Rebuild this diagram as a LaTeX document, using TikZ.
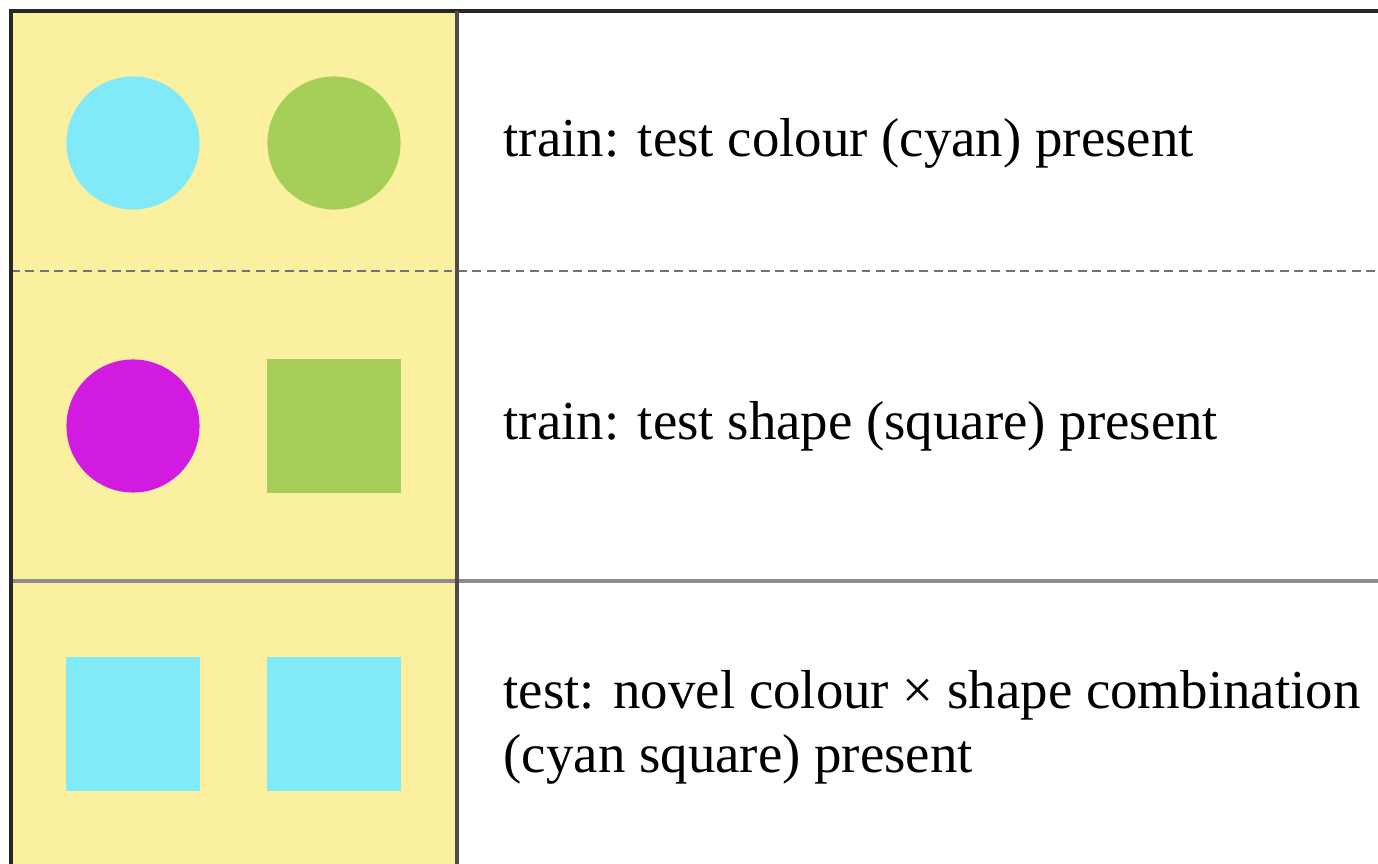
\documentclass[tikz,border=0pt]{standalone}
\usepackage{fontspec}
\setmainfont{Liberation Serif}
\usetikzlibrary{positioning}
\definecolor{pale}{RGB}{250,240,160}
\definecolor{cyanish}{RGB}{128,234,248}
\definecolor{leaf}{RGB}{166,207,90}
\definecolor{plum}{RGB}{210,27,224}
\tikzset{
  disc/.style={circle,inner sep=0pt,minimum size=1.33cm},
  sq/.style={rectangle,inner sep=0pt,minimum size=1.33cm},
  lab/.style={anchor=west,align=left,font=\fontsize{15.6}{18.2}\selectfont,inner sep=0pt},
  rim/.style={draw=black!85,line width=1.2pt},
  rule/.style={draw=black!45,line width=1pt},
}

\begin{document}
\begin{tikzpicture}[x=0.01cm,y=-0.01cm]
  \useasboundingbox (0,0) rectangle (1378,864);
  \fill[pale] (11,11) rectangle (457,864);
  % row separators
  \draw[rule,draw=black!55,line width=0.7pt,dash pattern=on 2.5pt off 1.6pt] (11,271) -- (1378,271);
  \draw[rule] (11,581) -- (1378,581);
  \draw[rim] (11,864) -- (11,11) -- (1378,11);
  \draw[rim,draw=black!70] (457,11) -- (457,864);
  % first row
  \node[disc,fill=cyanish] (c1) at (133,143) {};
  \node[disc,fill=leaf] (c2) at (334,143) {};
  \node[lab] (t1) at (503,143) {train: test colour (cyan) present};
  % second row
  \node[disc,fill=plum] (c3) at (133,426) {};
  \node[sq,fill=leaf] (s1) at (334,426) {};
  \node[lab] (t2) at (503,426) {train: test shape (square) present};
  % third row
  \node[sq,fill=cyanish] (s2) at (133,724) {};
  \node[sq,fill=cyanish] (s3) at (334,724) {};
  \node[lab] (t3) at (503,727) {test: novel colour × shape combination\\(cyan square) present};
\end{tikzpicture}
\end{document}
